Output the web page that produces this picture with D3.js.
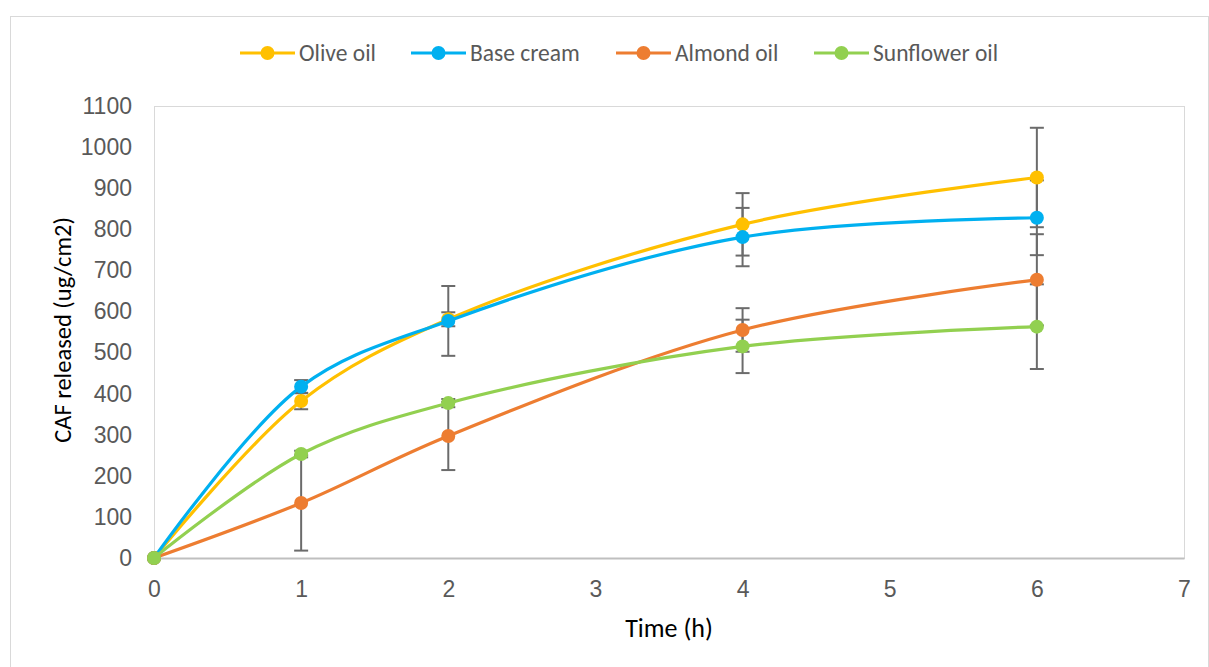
<!DOCTYPE html>
<html>
<head>
<meta charset="utf-8">
<script src="https://cdn.jsdelivr.net/npm/d3@7"></script>
<style>
  body { margin: 0; background: #fff; }
  svg { font-family: Carlito, Calibri, Lato, "Open Sans", sans-serif; }
</style>
</head>
<body>
<div id="chart"></div>
<script>
// data
var times = [0, 1, 2, 4, 6];
var seriesNames = ["Olive oil", "Base cream", "Almond oil", "Sunflower oil"];
var seriesColors = ["#FFC000", "#00B0F0", "#ED7D31", "#92D050"];
var oliveOil = [0, 382, 581, 812, 926];
var baseCream = [0, 417, 577, 781, 828];
var almondOil = [0, 134, 297, 555, 677];
var sunflowerOil = [0, 253, 377, 515, 563];
var oliveErr = [0, 20, 17, 76, 121];
var baseErr = [0, 16, 85, 71, 91];
var almondErr = [0, 116, 83, 53, 111];
var sunflowerErr = [0, 8, 10, 65, 103];
var xTicks = [0, 1, 2, 3, 4, 5, 6, 7];
var yTicks = [0, 100, 200, 300, 400, 500, 600, 700, 800, 900, 1000, 1100];

var allValues = [oliveOil, baseCream, almondOil, sunflowerOil];
var allErrors = [oliveErr, baseErr, almondErr, sunflowerErr];

var W = 1209, H = 667;
var svg = d3.select("#chart").append("svg").attr("width", W).attr("height", H);

// outer chart frame
svg.append("rect").attr("x", 10.5).attr("y", 16.5).attr("width", 1198).attr("height", 670)
    .attr("fill", "#fff").attr("stroke", "#d9d9d9").attr("stroke-width", 1);

var x = d3.scaleLinear().domain([0, 7]).range([154, 1184]);
var y = d3.scaleLinear().domain([0, 1100]).range([558, 106]);

// plot area border
svg.append("rect").attr("x", 154.5).attr("y", 106.5).attr("width", 1030).attr("height", 452)
    .attr("fill", "none").attr("stroke", "#d9d9d9").attr("stroke-width", 1);

// axes
var xAxis = svg.append("g").attr("transform", "translate(0," + y(0) + ")")
    .call(d3.axisBottom(x).tickValues(xTicks).tickSize(0).tickPadding(23).tickFormat(d3.format("d")));
xAxis.select(".domain").attr("stroke", "#bfbfbf").attr("stroke-width", 2);
xAxis.selectAll("text").attr("fill", "#595959").style("font-size", "23px");

var yAxis = svg.append("g").attr("transform", "translate(" + x(0) + ",0)")
    .call(d3.axisLeft(y).tickValues(yTicks).tickSize(0).tickPadding(22).tickFormat(d3.format("d")));
yAxis.select(".domain").attr("stroke", "#d9d9d9").attr("stroke-width", 1);
yAxis.selectAll("text").attr("fill", "#595959").style("font-size", "23px");

// axis titles
svg.append("text").attr("x", 669).attr("y", 637).attr("text-anchor", "middle")
    .attr("fill", "#000").style("font-size", "26px").text("Time (h)");
svg.append("text").attr("transform", "translate(71,330) rotate(-90)")
    .attr("text-anchor", "middle").attr("fill", "#000").style("font-size", "24.5px")
    .text("CAF released (ug/cm2)");

// error bars
var errG = svg.append("g");
allValues.forEach(function(vals, s) {
    vals.forEach(function(v, i) {
        var e = allErrors[s][i];
        if (!e) return;
        var cx = x(times[i]);
        errG.append("line").attr("x1", cx).attr("x2", cx).attr("y1", y(v - e)).attr("y2", y(v + e))
            .attr("stroke", "#6b6b6b").attr("stroke-width", 2);
        [v - e, v + e].forEach(function(b) {
            errG.append("line").attr("x1", cx - 7).attr("x2", cx + 7).attr("y1", y(b)).attr("y2", y(b))
                .attr("stroke", "#6b6b6b").attr("stroke-width", 2);
        });
    });
});

// smoothed lines + markers
var line = d3.line()
    .x(function(d) { return x(d[0]); })
    .y(function(d) { return y(d[1]); })
    .curve(d3.curveCatmullRom.alpha(0.5));

allValues.forEach(function(vals, s) {
    var pts = times.map(function(t, i) { return [t, vals[i]]; });
    var g = svg.append("g");
    g.append("path").attr("d", line(pts)).attr("fill", "none")
        .attr("stroke", seriesColors[s]).attr("stroke-width", 3.2);
    g.selectAll("circle").data(pts).enter().append("circle")
        .attr("cx", function(d) { return x(d[0]); })
        .attr("cy", function(d) { return y(d[1]); })
        .attr("r", 7).attr("fill", seriesColors[s]);
});

// legend
var legendX = [240, 411, 616, 814];
seriesNames.forEach(function(name, s) {
    var lg = svg.append("g").attr("transform", "translate(" + legendX[s] + ",53)");
    lg.append("line").attr("x1", 0).attr("x2", 55).attr("y1", 0).attr("y2", 0)
        .attr("stroke", seriesColors[s]).attr("stroke-width", 3.2);
    lg.append("circle").attr("cx", 27.5).attr("cy", 0).attr("r", 7).attr("fill", seriesColors[s]);
    lg.append("text").attr("x", 59).attr("y", 8).attr("fill", "#595959")
        .style("font-size", "23.5px").text(name);
});
</script>
</body>
</html>
